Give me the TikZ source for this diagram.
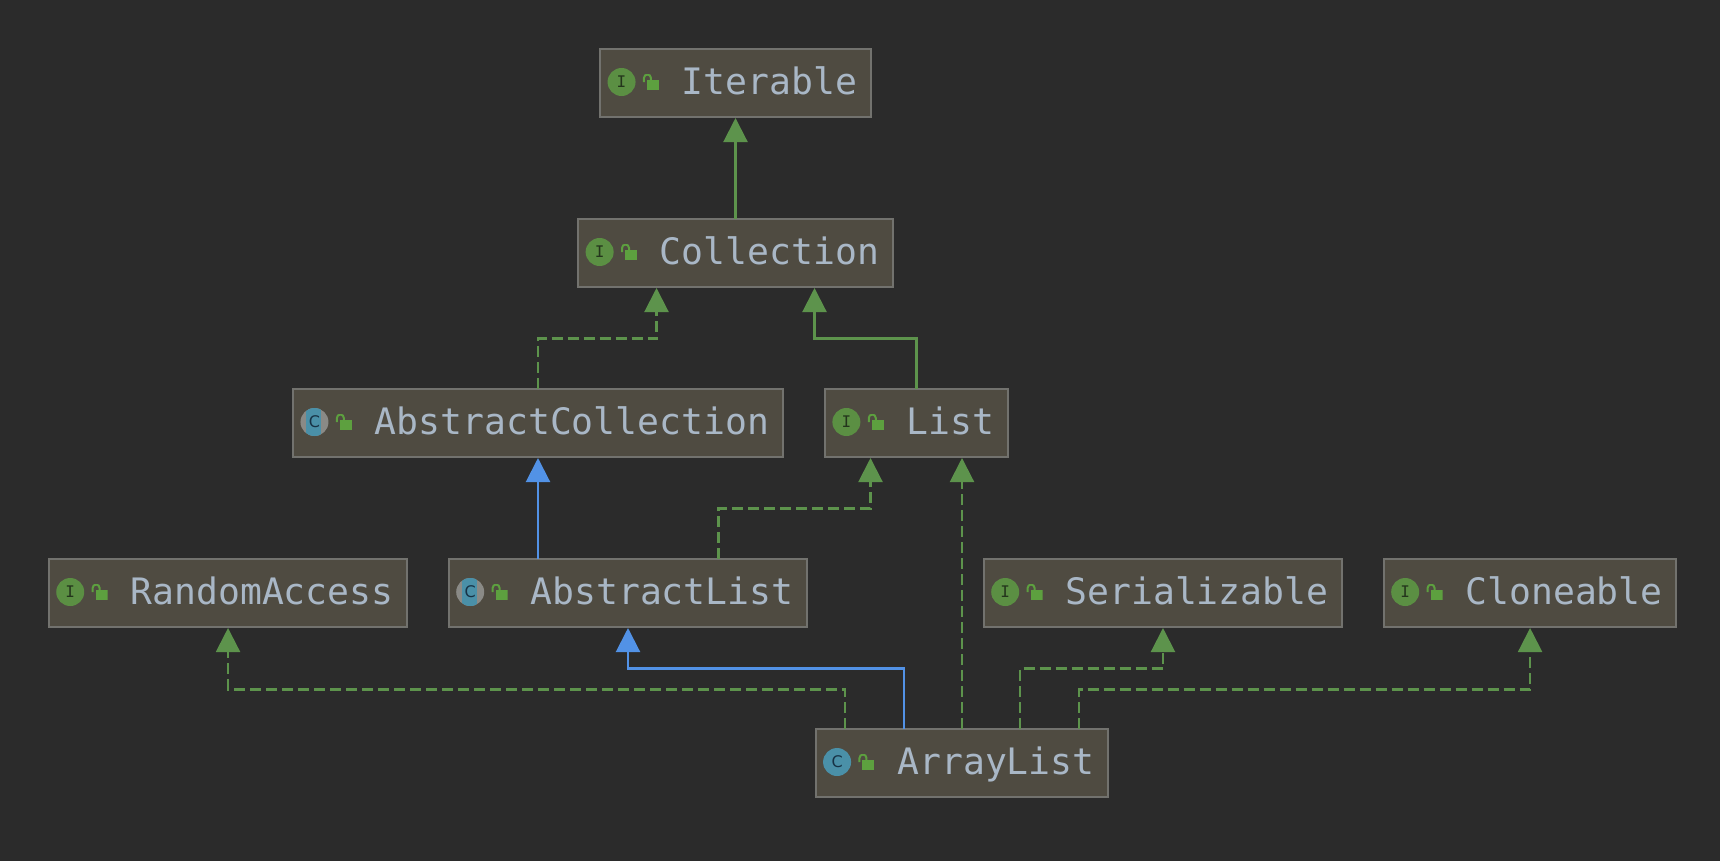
\documentclass[tikz,border=0pt]{standalone}
\usepackage{fontspec}
\setmonofont{DejaVu Sans Mono}
\setsansfont{DejaVu Sans}
\usepackage{xcolor}
\usetikzlibrary{arrows.meta, positioning}
\definecolor{canvasgray}{HTML}{2B2B2B}
\definecolor{boxfill}{HTML}{4F4B41}
\definecolor{boxline}{HTML}{72726E}
\definecolor{nametext}{HTML}{A9B7C6}
\definecolor{igreen}{HTML}{5B8F43}
\definecolor{arrowgreen}{HTML}{5D934C}
\definecolor{lockgreen}{HTML}{5DA03F}
\definecolor{cblue}{HTML}{4A90A8}
\definecolor{inkgreen}{HTML}{24351C}
\definecolor{inkblue}{HTML}{173245}
\definecolor{abstractgray}{HTML}{8A8A86}
\definecolor{extendblue}{HTML}{5292E6}

\begin{document}
\begin{tikzpicture}[x=1pt, y=1pt,
    classbox/.style={rectangle, draw=boxline, fill=boxfill, line width=2pt, outer sep=0pt, inner xsep=13.5pt, inner ysep=0pt, minimum height=68pt, text height=30pt, text depth=8pt, text=nametext, font=\ttfamily\fontsize{36.4}{40}\selectfont},
    ibadge/.style={circle, fill=igreen, minimum size=28pt, inner sep=0pt, yshift=1pt, text=inkgreen, font=\ttfamily\fontsize{16}{16}\selectfont},
    cbadge/.style={ibadge, fill=cblue, text=inkblue, font=\sffamily\fontsize{16}{16}\selectfont},
    abadge/.style={cbadge, fill=abstractgray, path picture={\fill[cblue] ([xshift=-8pt]path picture bounding box.south) rectangle ([xshift=7pt]path picture bounding box.north);}},
    lockicon/.style={rectangle, minimum size=16pt, inner sep=0pt, path picture={
        \fill[lockgreen] ([xshift=4pt]path picture bounding box.south west) rectangle ([xshift=16pt,yshift=10pt]path picture bounding box.south west);
        \draw[lockgreen, line width=2pt] ([xshift=1pt,yshift=8pt]path picture bounding box.south west) -- ([xshift=1pt,yshift=12pt]path picture bounding box.south west) arc[start angle=180, end angle=0, radius=3.5pt] -- ++(0,-2pt);}},
    greentip/.style={-{Triangle[length=24pt, width=24pt]}, line width=2.1pt, shorten >=1pt},
    inherit/.style={greentip, arrowgreen},
    implement/.style={greentip, arrowgreen, dash pattern=on 11pt off 5pt},
    extend/.style={greentip, extendblue}]

    \path[use as bounding box] (0,0) rectangle (1720,-860);
    \fill[canvasgray] (-5,5) rectangle (1725,-865);

    % Iterable
    \node[classbox] (iterable) at (735.5,-83) {\hspace*{68pt}Iterable};
    \node[ibadge, right=7pt of iterable.west] (iterable_badge) {I};
    \node[lockicon, right=7pt of iterable_badge] (iterable_lock) {};

    % Collection
    \node[classbox, below=102pt of iterable] (collection) {\hspace*{68pt}Collection};
    \node[ibadge, right=7pt of collection.west] (collection_badge) {I};
    \node[lockicon, right=7pt of collection_badge] (collection_lock) {};

    % AbstractCollection and List
    \node[classbox, below=102pt of collection, xshift=-197.5pt] (abstract_collection) {\hspace*{68pt}AbstractCollection};
    \node[abadge, right=7pt of abstract_collection.west] (abstract_collection_badge) {C};
    \node[lockicon, right=7pt of abstract_collection_badge] (abstract_collection_lock) {};

    \node[classbox, below=102pt of collection, xshift=181pt] (list) {\hspace*{68pt}List};
    \node[ibadge, right=7pt of list.west] (list_badge) {I};
    \node[lockicon, right=7pt of list_badge] (list_lock) {};

    % Middle row
    \node[classbox, below=102pt of abstract_collection, xshift=90pt] (abstract_list) {\hspace*{68pt}AbstractList};
    \node[abadge, right=7pt of abstract_list.west] (abstract_list_badge) {C};
    \node[lockicon, right=7pt of abstract_list_badge] (abstract_list_lock) {};

    \node[classbox, left=42pt of abstract_list] (random_access) {\hspace*{68pt}RandomAccess};
    \node[ibadge, right=7pt of random_access.west] (random_access_badge) {I};
    \node[lockicon, right=7pt of random_access_badge] (random_access_lock) {};

    \node[classbox, right=177pt of abstract_list] (serializable) {\hspace*{68pt}Serializable};
    \node[ibadge, right=7pt of serializable.west] (serializable_badge) {I};
    \node[lockicon, right=7pt of serializable_badge] (serializable_lock) {};

    \node[classbox, right=42pt of serializable] (cloneable) {\hspace*{68pt}Cloneable};
    \node[ibadge, right=7pt of cloneable.west] (cloneable_badge) {I};
    \node[lockicon, right=7pt of cloneable_badge] (cloneable_lock) {};

    % ArrayList
    \node[classbox, below=102pt of abstract_list, xshift=334pt] (array_list) {\hspace*{68pt}ArrayList};
    \node[cbadge, right=7pt of array_list.west] (array_list_badge) {C};
    \node[lockicon, right=7pt of array_list_badge] (array_list_lock) {};

    % Upper arrows
    \draw[inherit] (collection.north) -- (collection.north |- iterable.south);
    \draw[implement] (abstract_collection.north) -- ++(0,50.5) -| ([xshift=-79pt]collection.south);
    \draw[inherit] (list.north) -- ++(0,50.5) -| ([xshift=79pt]collection.south);
    \draw[extend] (abstract_collection.south |- abstract_list.north) -- (abstract_collection.south);
    \draw[implement] ([xshift=90.5pt]abstract_list.north) -- ++(0,50.5) -| ([xshift=-46pt]list.south);

    % Arrows out of ArrayList
    \draw[implement] (array_list.north) -- (array_list.north |- list.south);
    \draw[extend] ([xshift=-58pt]array_list.north) -- ++(0,60.5) -| (abstract_list.south);
    \draw[implement] ([xshift=-117pt]array_list.north) -- ++(0,39.5) -| (random_access.south);
    \draw[implement] ([xshift=58pt]array_list.north) -- ++(0,60.5) -| (serializable.south);
    \draw[implement] ([xshift=117pt]array_list.north) -- ++(0,39.5) -| (cloneable.south);

\end{tikzpicture}
\end{document}
